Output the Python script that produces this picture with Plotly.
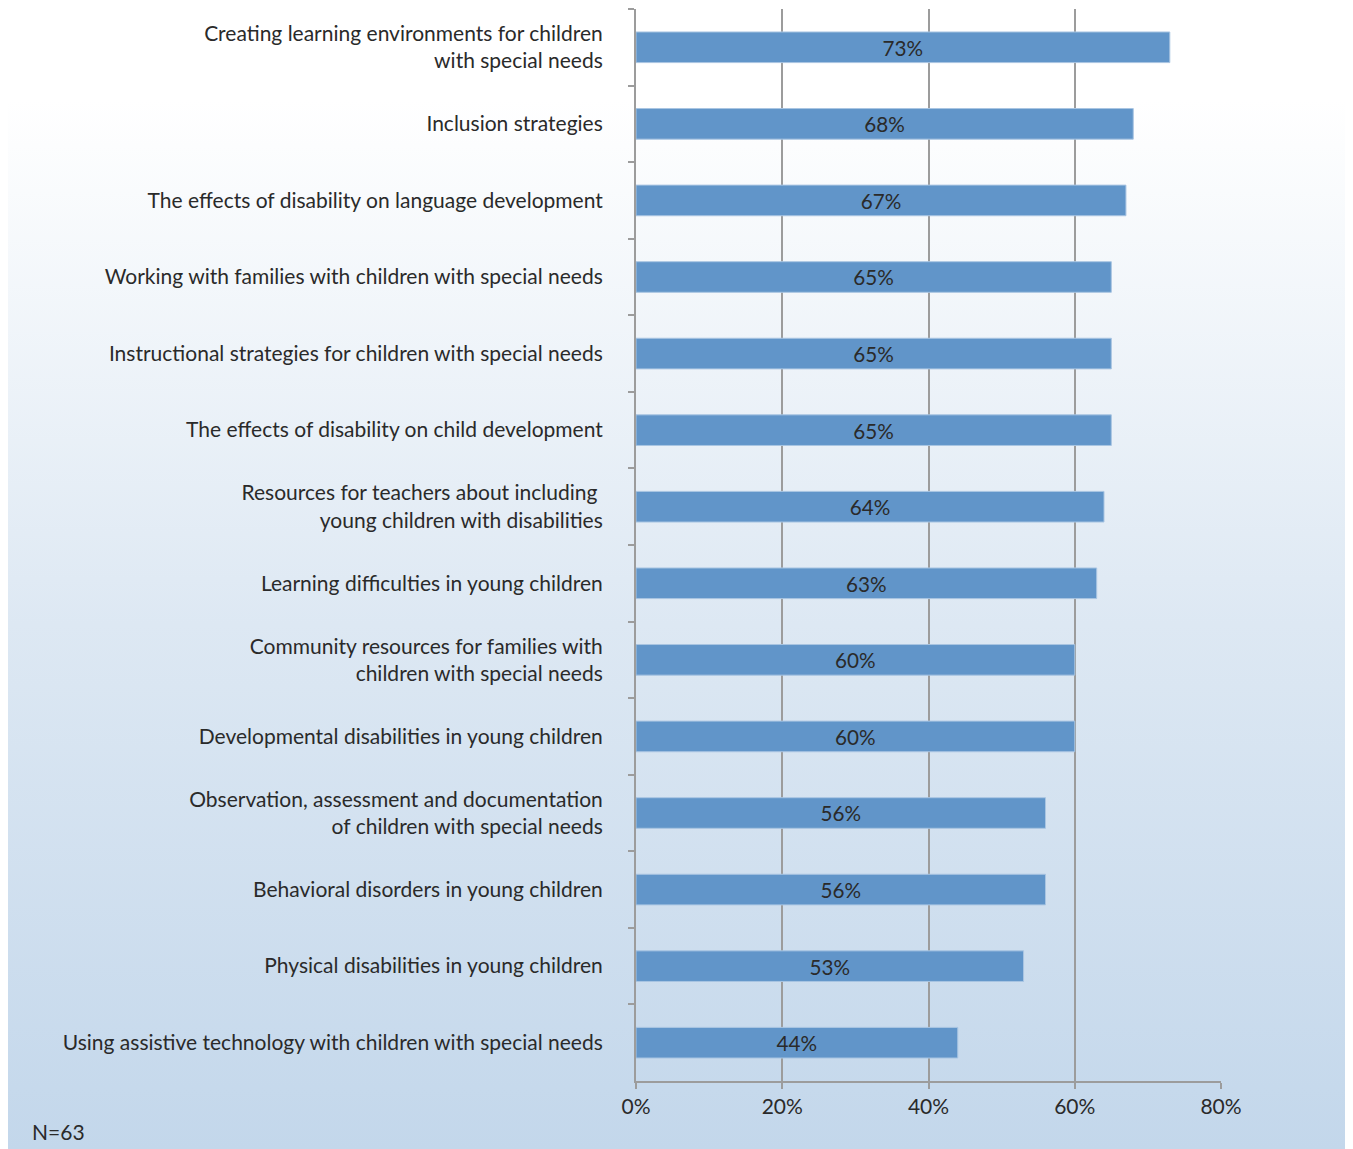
import base64
import plotly.graph_objects as go

categories = [
    "Creating learning environments for children<br>with special needs",
    "Inclusion strategies",
    "The effects of disability on language development",
    "Working with families with children with special needs",
    "Instructional strategies for children with special needs",
    "The effects of disability on child development",
    "Resources for teachers about including&nbsp;<br>young children with disabilities",
    "Learning difficulties in young children",
    "Community resources for families with<br>children with special needs",
    "Developmental disabilities in young children",
    "Observation, assessment and documentation<br>of children with special needs",
    "Behavioral disorders in young children",
    "Physical disabilities in young children",
    "Using assistive technology with children with special needs",
]
values = [73, 68, 67, 65, 65, 65, 64, 63, 60, 60, 56, 56, 53, 44]
x_ticks = [0, 20, 40, 60, 80]
x_tick_labels = ["0%", "20%", "40%", "60%", "80%"]
note = "N=63"

OFF = 8  # page offset of the figure
W, H = 1353 - OFF, 1149 - OFF
L, T = 636 - OFF, 9 - OFF
R, B = W - (1221 - OFF), H - (1081 - OFF)
pw, ph = W - L - R, H - T - B

svg = ('<svg xmlns="http://www.w3.org/2000/svg" width="200" height="200" preserveAspectRatio="none">'
       '<defs><linearGradient id="g" x1="0" y1="0" x2="0" y2="1">'
       '<stop offset="0" stop-color="#ffffff"/>'
       '<stop offset="0.5" stop-color="#dde8f3"/>'
       '<stop offset="1" stop-color="#c3d7eb"/>'
       '</linearGradient></defs><rect width="200" height="200" fill="url(#g)"/></svg>')
img_src = "data:image/svg+xml;base64," + base64.b64encode(svg.encode()).decode()

def px_x(p):
    return (p - OFF - L) / pw

def px_y(p):
    return (H - B - (p - OFF)) / ph

FONT = "Lato, sans-serif"
fs = 21
fig = go.Figure()
fig.add_trace(go.Bar(
    y=categories,
    x=values,
    orientation="h",
    marker=dict(color="#6195c9", line=dict(color="#a9c5e2", width=1)),
    text=[f"{v}%" for v in values],
    textposition="inside",
    insidetextanchor="middle",
    textangle=0,
    textfont=dict(family=FONT, size=fs, color="#2a2a2a"),
    cliponaxis=False,
    hoverinfo="skip",
))

fig.update_layout(
    width=W, height=H,
    margin=dict(l=L, r=R, t=T, b=B, pad=0),
    paper_bgcolor="#ffffff",
    plot_bgcolor="rgba(0,0,0,0)",
    bargap=0.6,
    showlegend=False,
    font=dict(family=FONT, size=fs, color="#2a2a2a"),
    images=[dict(
        source=img_src, xref="paper", yref="paper",
        x=px_x(8), y=px_y(100),
        sizex=px_x(1353) - px_x(8), sizey=px_y(100) - px_y(1149),
        xanchor="left", yanchor="top", sizing="stretch", layer="below",
    )],
    annotations=[dict(
        text=note, xref="paper", yref="paper",
        x=px_x(30), y=px_y(1131), xanchor="left", yanchor="middle",
        showarrow=False, font=dict(family=FONT, size=fs, color="#2a2a2a"),
    )],
    xaxis=dict(
        range=[0, 80], tickvals=x_ticks, ticktext=x_tick_labels,
        showgrid=True, gridcolor="#9c9c9c", gridwidth=1.5,
        showline=True, linecolor="#9c9c9c", linewidth=2,
        ticks="outside", ticklen=6, tickcolor="#9c9c9c", tickwidth=1.5,
        zeroline=False, fixedrange=True,
        tickfont=dict(family=FONT, size=fs, color="#2a2a2a"),
    ),
    yaxis=dict(
        categoryorder="array", categoryarray=categories,
        autorange="reversed",
        showline=True, linecolor="#9c9c9c", linewidth=2,
        ticks="outside", ticklen=6, tickcolor="#9c9c9c", tickwidth=1.5,
        tickson="boundaries", showgrid=False, zeroline=False,
        ticklabelstandoff=27, fixedrange=True,
        tickfont=dict(family=FONT, size=fs, color="#2a2a2a"),
    ),
)

fig.write_html("out.html")
